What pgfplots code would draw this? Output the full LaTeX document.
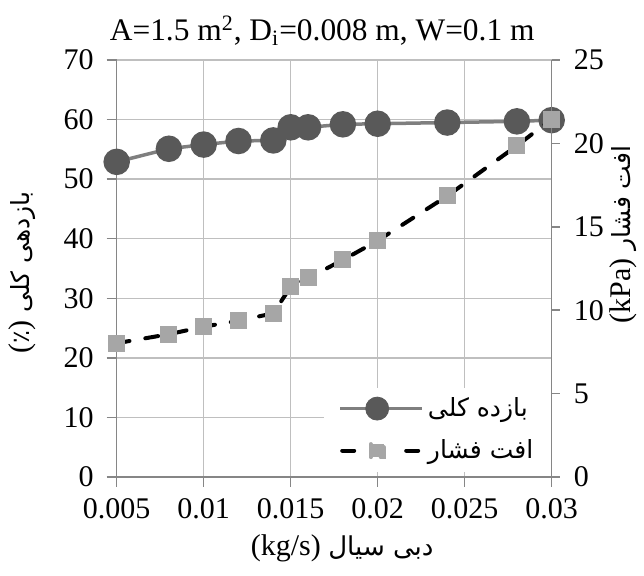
\documentclass[border=0pt]{standalone}
\usepackage{fontspec}
\setmainfont{Liberation Serif}
\newfontfamily\arabicfont[Script=Arabic]{DejaVu Sans}
\TeXXeTstate=1
\usepackage{pgfplots}
\usepackage{pgfplotstable}
\pgfplotsset{compat=1.18}
\definecolor{circ}{HTML}{595959}
\definecolor{circline}{HTML}{7F7F7F}
\definecolor{sq}{HTML}{A6A6A6}
\definecolor{gridc}{HTML}{BFBFBF}
\definecolor{axc}{HTML}{868686}

\pgfplotstableread{
x y
0.005 52.9
0.008 55.1
0.010 55.8
0.012 56.4
0.014 56.5
0.015 58.7
0.016 58.7
0.018 59.2
0.020 59.3
0.024 59.5
0.028 59.7
0.030 59.9
}\efftab
\pgfplotstableread{
x y
0.005 8.02
0.008 8.56
0.010 9.01
0.012 9.37
0.014 9.81
0.015 11.41
0.016 11.93
0.018 13.01
0.020 14.17
0.024 16.85
0.028 19.86
0.030 21.46
}\prestab

\pgfplotsset{
  common/.style={
    scale only axis, width=217.5pt, height=208.5pt,
    xmin=0.005, xmax=0.03, clip=false,
    scaled x ticks=false, scaled y ticks=false,
    axis line style={axc, line width=0.75pt},
    tick style={axc, line width=0.75pt},
    tick align=outside,
    ticklabel style={font=\fontsize{15}{18}\selectfont},
    /pgf/number format/assume math mode=true,
  }
}

\begin{document}
\begin{tikzpicture}
\begin{axis}[common, name=main,
  ymin=0, ymax=70, ytick={0,10,...,70},
  xtick={0.005,0.01,0.015,0.02,0.025,0.03},
  xticklabels={0.005,0.01,0.015,0.02,0.025,0.03},
  grid=major, grid style={gridc, line width=0.75pt},
  major tick length=5pt,
  axis y line*=left, axis x line*=bottom,
  xticklabel style={yshift=-2pt},
  yticklabel style={xshift=-3pt},
]
\addplot[circline, line width=1.75pt, mark=*, mark size=5.75pt,
  mark options={draw=circ, fill=circ, solid}] table {\efftab};
\end{axis}
\begin{axis}[common,
  ymin=0, ymax=25, ytick={0,5,...,25},
  major tick length=4pt,
  axis y line*=right, axis x line=none,
  yticklabel style={xshift=3.5pt},
  legend style={at={(1,0.012)}, anchor=south east, draw=none, fill=white,
    font=\arabicfont\fontsize{12.5}{15}\selectfont,
    inner xsep=7pt, inner ysep=3pt, row sep=6pt},
  legend cell align=left,
]
\addlegendimage{legend image code/.code={
  \draw[circline, line width=1.75pt] (0pt,0pt) -- (41pt,0pt);
  \fill[circ] (18.5pt,0pt) circle (5.75pt);}}
\addlegendentry{\beginR بازده کلی\endR}
\addplot[black, line width=2pt, line cap=round, dash pattern=on 6.5pt off 8pt,
  mark=square*, mark size=3.25pt, mark options={draw=sq, fill=sq, solid},
  legend image code/.code={
  \draw[black, line width=2pt, line cap=round] (1pt,0pt) -- (7pt,0pt) (33pt,0pt) -- (39pt,0pt);
  \fill[sq] (15.25pt,-3.25pt) rectangle (21.75pt,3.25pt);}] table {\prestab};
\addlegendentry{\beginR افت فشار\endR}
\end{axis}
\node[anchor=base, font=\fontsize{15.7}{19}\selectfont] at ([xshift=-6pt,yshift=9.75pt]main.north)
  {A=1.5 m\textsuperscript{2}, D\textsubscript{i}=0.008 m, W=0.1 m};
\node[anchor=base, font=\fontsize{15}{18}\selectfont] at ([xshift=4pt,yshift=-39.5pt]main.south)
  {(kg/s) {\arabicfont\fontsize{13}{16}\selectfont\beginR دبی سیال\endR}};
\node[rotate=90, font=\fontsize{15}{18}\selectfont] at ([xshift=-47.35pt,yshift=-2pt]main.west)
  {({\arabicfont\fontsize{12}{16}\selectfont ٪}) {\arabicfont\fontsize{12.5}{16}\selectfont\beginR بازدهی کلی\endR}};
\node[rotate=90, font=\fontsize{15}{18}\selectfont] at ([xshift=35.65pt,yshift=17pt]main.east)
  {(kPa) {\arabicfont\fontsize{12.5}{16}\selectfont\beginR افت فشار\endR}};
\pgfresetboundingbox
\path ([xshift=-58.35pt,yshift=-49.5pt]main.south west) rectangle ([xshift=46.15pt,yshift=30pt]main.north east);
\end{tikzpicture}
\end{document}
